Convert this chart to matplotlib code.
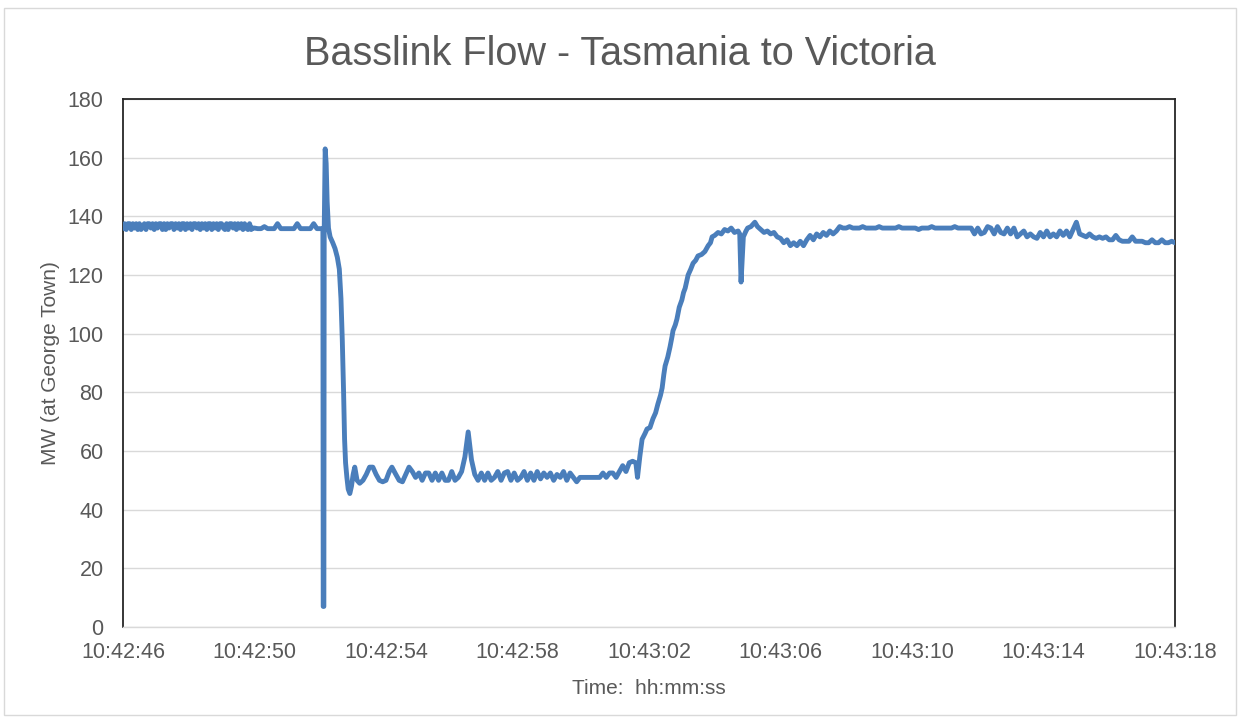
import numpy as np
import matplotlib
matplotlib.use("Agg")
import matplotlib.pyplot as plt
from matplotlib.patches import Rectangle

# ---- data (seconds after 10:42:46, MW) ----
# uniformly sampled segments: (start time, sample step, values)
segA1_start, segA1_step = 0.0, 0.05
segA1_vals = [136, 137.5, 135.5, 137.5, 137.5, 135.5, 137.5, 136, 137.5, 135.5,
              137.5, 135.5, 136.5, 137.5, 135.5, 137.5, 137.5, 136, 137.5, 135.5,
              137.5, 136, 137.5, 137.5, 135.5, 137.5, 135.5, 137.5, 136, 137.5,
              137.5, 135.5, 137.5, 136, 137.5, 135.5, 137.5, 137.5, 135.5, 137.5,
              136, 137.5, 135.5, 137.5, 137.5, 136, 137.5, 135.5, 137.5, 136,
              137.5, 135.5, 137.5, 137.5, 135.5, 137.5, 136, 137.5, 135.5, 137.5,
              137.5, 136, 135.5, 137.5, 135.5, 137.5, 137.5, 136, 137.5, 135.5,
              137.5, 136, 137.5, 135.5, 137.5, 136, 135.5, 137.5, 135.5, 136,
              136]
segA2_start, segA2_step = 4.1, 0.1
segA2_vals = [135.8, 135.8, 136.5, 135.8, 135.8, 135.8, 137.5, 135.8, 135.8, 135.8,
              135.8, 135.8, 137.5, 135.8, 135.8, 135.8, 135.8, 137.5, 135.8, 135.8]

# trip transient
trip_t = [6.05, 6.08, 6.09, 6.11, 6.12, 6.15, 6.18, 6.21, 6.25, 6.30, 6.38, 6.45,
          6.52, 6.58, 6.63, 6.67, 6.71, 6.74, 6.77, 6.81, 6.85, 6.90, 6.95, 7.00,
          7.05, 7.12, 7.20, 7.30, 7.40, 7.50, 7.60, 7.70, 7.80, 7.90, 8.00, 8.10,
          8.18, 8.30, 8.40, 8.50, 8.60, 8.70, 8.80, 8.90]
trip_v = [135.8, 135.8, 7, 7, 135, 163, 158, 145, 136, 133, 131, 129,
          126, 122, 112, 98, 80, 64, 56, 51, 47, 45.5, 48, 52,
          54.5, 50, 49, 50, 52, 54.5, 54.5, 52, 50, 49.5, 50, 53,
          54.5, 52, 50, 49.5, 52, 54.5, 53, 51]

segB_start, segB_step = 9.0, 0.1
segB_vals = [52.5, 50, 52.5, 52.5, 50, 52.5, 50, 52.5, 50, 50,
             53, 50, 51, 53, 58, 66.5, 57, 52, 50, 52.5,
             50, 52.5, 50, 51, 53, 50, 52.5, 53, 50, 52.5,
             50, 51, 53, 50, 52.5, 50, 53, 50.5, 52.5, 51,
             52.5, 50, 52, 51, 53, 50, 52.5, 51, 49.5, 51,
             51, 51, 51, 51, 51, 51, 52.5, 51, 52.5, 52.5,
             51]

# recovery ramp
ramp_t = [15.10, 15.20, 15.30, 15.40, 15.50, 15.60, 15.65, 15.72, 15.79, 15.88,
          15.94, 16.03, 16.12, 16.20, 16.27, 16.35, 16.40, 16.45, 16.49, 16.57,
          16.64, 16.70, 16.73, 16.80, 16.85, 16.92, 17.00, 17.05, 17.10, 17.15,
          17.19, 17.27, 17.34, 17.42, 17.49, 17.60, 17.70, 17.80, 17.87, 17.92,
          18.00, 18.10, 18.20, 18.30, 18.40, 18.50, 18.60, 18.71, 18.76, 18.80,
          18.84, 18.87, 18.95, 19.00, 19.10, 19.22, 19.30, 19.40, 19.50, 19.60,
          19.70, 19.80, 19.90, 20.00, 20.10, 20.20, 20.30, 20.40, 20.50, 20.60,
          20.70, 20.80, 20.90, 21.00, 21.10, 21.20, 21.30, 21.40, 21.50, 21.60,
          21.70, 21.80]
ramp_v = [53, 55, 53, 56, 56.5, 56, 51, 58, 64, 66,
          67.5, 68, 71, 73, 76, 79, 81.5, 86, 89, 92,
          95.5, 99, 101, 103, 105, 109, 111.5, 114, 115.5, 118,
          120, 122, 124, 125, 126.5, 127, 128, 130, 131, 133,
          133.5, 134.5, 134, 135.5, 135, 136, 134.5, 135, 134, 117.6,
          126, 133, 135, 136, 136.5, 138, 136.5, 135.5, 134.5, 135,
          134, 134.5, 133, 132.5, 131, 132, 130, 131, 130, 131.5,
          130, 132, 133.5, 132, 134, 133, 134.5, 133.5, 135, 134,
          135, 136.5]

segC_start, segC_step = 21.9, 0.1
segC_vals = [136, 136, 136.5, 136, 136, 136, 136.5, 136, 136, 136,
             136, 136.5, 136, 136, 136, 136, 136, 136.5, 136, 136,
             136, 136, 136, 135.5, 136, 136, 136, 136.5, 136, 136,
             136, 136, 136, 136, 136.5, 136, 136, 136, 136, 136,
             134, 136, 134, 134.5, 136.5, 136, 134, 136.5, 134.5, 134,
             136, 134, 136, 133, 134, 135, 133, 134, 133, 132.5,
             134.5, 133, 135, 133, 134, 133, 135, 133.5, 135, 133,
             135.5, 138, 134, 133.5, 133, 134, 133, 132.5, 133, 132.5,
             133, 132, 132, 133.5, 132, 131.5, 131.5, 131.5, 133, 131.5,
             131.5, 131.5, 131, 131, 132, 131, 131, 132, 131, 131,
             131.5, 131]

x_ticks = [0, 4, 8, 12, 16, 20, 24, 28, 32]
x_tick_labels = ["10:42:46", "10:42:50", "10:42:54", "10:42:58", "10:43:02",
                 "10:43:06", "10:43:10", "10:43:14", "10:43:18"]
y_ticks = [0, 20, 40, 60, 80, 100, 120, 140, 160, 180]


def seg_times(start, step, vals):
    return list(np.round(start + step * np.arange(len(vals)), 3))


t = (seg_times(segA1_start, segA1_step, segA1_vals) +
     seg_times(segA2_start, segA2_step, segA2_vals) + trip_t +
     seg_times(segB_start, segB_step, segB_vals) + ramp_t +
     seg_times(segC_start, segC_step, segC_vals))
v = segA1_vals + segA2_vals + trip_v + segB_vals + ramp_v + segC_vals

# ---- plot ----
plt.rcParams['font.family'] = ['Liberation Sans', 'DejaVu Sans']
fig = plt.figure(figsize=(12.4, 7.18), dpi=100)
fig.patches.append(Rectangle((0.003, 0.004), 0.994, 0.985, transform=fig.transFigure,
                             fill=False, edgecolor='#D9D9D9', linewidth=1.0))
ax = fig.add_axes([123 / 1240, 91 / 718, (1175 - 123) / 1240, (627 - 99) / 718])

ax.plot(t, v, color='#4A7EBB', linewidth=3.5, solid_joinstyle='round', zorder=3)

ax.set_xlim(0, 32)
ax.set_ylim(0, 180)
ax.set_xticks(x_ticks)
ax.set_xticklabels(x_tick_labels)
ax.set_yticks(y_ticks)
ax.grid(axis='y', color='#D9D9D9', linewidth=1.0)
ax.set_axisbelow(True)

for side in ['left', 'right', 'top']:
    ax.spines[side].set_color('#262626')
    ax.spines[side].set_linewidth(1.3)
ax.spines['bottom'].set_color('#D9D9D9')
ax.spines['bottom'].set_linewidth(1.0)

ax.tick_params(axis='both', length=0, labelsize=15.5, labelcolor='#595959')
ax.tick_params(axis='x', pad=11)
ax.tick_params(axis='y', pad=14)

ax.set_xlabel('Time:  hh:mm:ss', fontsize=15, color='#595959', labelpad=11)
ax.set_ylabel('MW (at George Town)', fontsize=15, color='#595959', labelpad=5)
fig.text(0.5, 1 - 54 / 718, 'Basslink Flow - Tasmania to Victoria', fontsize=28.5,
         color='#595959', ha='center', va='center')

fig.savefig('out.png', dpi=100)
